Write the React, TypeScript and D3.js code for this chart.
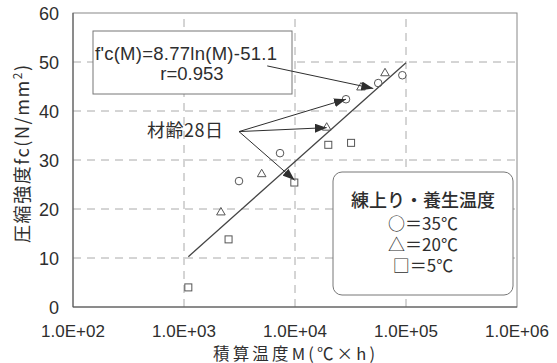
import React from "react";
import * as d3 from "d3";

const width = 557,
  height = 363;

// measured values (M in °C×h, fc in N/mm2)
const circles35 = [
  [3130, 25.7],
  [7330, 31.4],
  [28800, 42.4],
  [56200, 45.7],
  [92700, 47.3],
];
const triangles20 = [
  [2150, 19.3],
  [5010, 27.1],
  [19300, 36.6],
  [39300, 44.8],
  [64700, 47.7],
];
const squares5 = [
  [1094, 4.0],
  [2520, 13.8],
  [9860, 25.4],
  [19950, 33.1],
  [32000, 33.5],
];

const xTicks = [1e2, 1e3, 1e4, 1e5, 1e6];
const xTickLabels = ["1.0E+02", "1.0E+03", "1.0E+04", "1.0E+05", "1.0E+06"];
const yTicks = [0, 10, 20, 30, 40, 50, 60];

// fit fc(M) = a ln(M) + b
const fitA = 8.77,
  fitB = -51.1;
const fitRange = [1094, 1e5];

// arrow targets for the "材齢28日" note
const ageTargets = [
  [28800, 42.4],
  [19300, 36.6],
  [9900, 25.9],
];
const ageAnchor = [3130, 35.8];
const eqArrow = [
  [5620, 49.2],
  [50700, 44.6],
];

const legendTitle = "練上り・養生温度";
const legendLines = ["○＝35℃", "△＝20℃", "□＝5℃"];

const font = "'Liberation Sans', 'Noto Sans CJK JP', sans-serif";
const cjk = "'Noto Sans CJK JP', sans-serif";
const ink = "#2e2e2e";

export default function App() {
  const x = d3.scaleLog().domain([1e2, 1e6]).range([73, 517]);
  const y = d3.scaleLinear().domain([0, 60]).range([307, 13]);

  const fitLine = d3
    .line<number>()
    .x((m) => x(m))
    .y((m) => y(fitA * Math.log(m) + fitB));

  const tri = d3.symbol().type(d3.symbolTriangle).size(32);

  return (
    <div style={{ position: "fixed", left: 0, top: 0 }}>
      <svg width={width} height={height} style={{ background: "#fff" }}>
        <defs>
          <marker
            id="head"
            markerUnits="userSpaceOnUse"
            markerWidth={13}
            markerHeight={9}
            refX={12}
            refY={4.5}
            orient="auto"
          >
            <path d="M0,0 L12,4.5 L0,9 z" fill={ink} />
          </marker>
        </defs>

        {/* grid */}
        {yTicks.slice(1, -1).map((t) => (
          <line
            key={"gy" + t}
            x1={x(1e2)}
            x2={x(1e6)}
            y1={y(t)}
            y2={y(t)}
            stroke="#aaa"
            strokeDasharray="8,6"
          />
        ))}
        {xTicks.slice(1, -1).map((t) => (
          <line
            key={"gx" + t}
            x1={x(t)}
            x2={x(t)}
            y1={y(0)}
            y2={y(60)}
            stroke="#aaa"
            strokeDasharray="8,6"
          />
        ))}
        <rect
          x={x(1e2)}
          y={y(60)}
          width={x(1e6) - x(1e2)}
          height={y(0) - y(60)}
          fill="none"
          stroke="#888"
        />
        <line x1={x(1e2)} x2={x(1e2)} y1={y(0)} y2={y(60)} stroke="#555" />
        <line x1={x(1e2)} x2={x(1e6)} y1={y(0)} y2={y(0)} stroke="#555" />

        {/* tick labels */}
        {yTicks.map((t) => (
          <text
            key={"ty" + t}
            x={59}
            y={y(t) + 6.5}
            textAnchor="end"
            fontFamily={font}
            fontSize={18}
            fill={ink}
          >
            {t}
          </text>
        ))}
        {xTicks.map((t, i) => (
          <text
            key={"tx" + t}
            x={x(t)}
            y={336.5}
            textAnchor="middle"
            fontFamily={font}
            fontSize={17}
            fill={ink}
          >
            {xTickLabels[i]}
          </text>
        ))}

        {/* axis titles */}
        <text
          x={294}
          y={359.5}
          textAnchor="middle"
          fontFamily={cjk}
          fontSize={16.5}
          textLength={162}
          fill={ink}
        >
          積算温度M(℃×h)
        </text>
        <text
          transform="translate(29,154) rotate(-90)"
          textAnchor="middle"
          fontFamily={cjk}
          fontSize={18}
          textLength={178}
          fill={ink}
        >
          圧縮強度fc(N/mm
          <tspan dy={-7} fontSize={12}>
            2
          </tspan>
          <tspan dy={7}>)</tspan>
        </text>

        {/* fit */}
        <path
          d={fitLine(fitRange) || ""}
          fill="none"
          stroke="#444"
          strokeWidth={1.3}
        />

        {/* points */}
        {circles35.map((d, i) => (
          <circle
            key={"c" + i}
            cx={x(d[0])}
            cy={y(d[1])}
            r={3.8}
            fill="none"
            stroke="#555"
          />
        ))}
        {triangles20.map((d, i) => (
          <path
            key={"t" + i}
            d={tri() || ""}
            transform={`translate(${x(d[0])},${y(d[1])})`}
            fill="none"
            stroke="#555"
          />
        ))}
        {squares5.map((d, i) => (
          <rect
            key={"s" + i}
            x={x(d[0]) - 3.5}
            y={y(d[1]) - 3.5}
            width={7}
            height={7}
            fill="none"
            stroke="#555"
          />
        ))}

        {/* equation box */}
        <rect x={93} y={31} width={199} height={63} fill="#fff" stroke="#777" />
        <text
          x={186}
          y={60}
          textAnchor="middle"
          fontFamily={font}
          fontSize={18.5}
          textLength={182}
          fill={ink}
        >
          f'c(M)=8.77ln(M)-51.1
        </text>
        <text
          x={192}
          y={80}
          textAnchor="middle"
          fontFamily={font}
          fontSize={18.5}
          fill={ink}
        >
          r=0.953
        </text>
        <line
          x1={x(eqArrow[0][0])}
          y1={y(eqArrow[0][1])}
          x2={x(eqArrow[1][0])}
          y2={y(eqArrow[1][1])}
          stroke={ink}
          markerEnd="url(#head)"
        />

        {/* age note */}
        <text
          x={147}
          y={137}
          fontFamily={cjk}
          fontSize={18}
          textLength={76}
          fill={ink}
        >
          材齢28日
        </text>
        {ageTargets.map((d, i) => (
          <line
            key={"a" + i}
            x1={x(ageAnchor[0])}
            y1={y(ageAnchor[1])}
            x2={x(d[0])}
            y2={y(d[1])}
            stroke={ink}
            markerEnd="url(#head)"
          />
        ))}

        {/* legend */}
        <rect
          x={333}
          y={172}
          width={180}
          height={123}
          rx={9}
          fill="#fff"
          stroke="#777"
        />
        <text
          x={423}
          y={207}
          textAnchor="middle"
          fontFamily={cjk}
          fill={ink}
        >
          <tspan x={423} fontSize={18} fontWeight={500}>
            {legendTitle}
          </tspan>
          {legendLines.map((s, i) => (
            <tspan key={"l" + i} x={423} dy={i === 0 ? 23 : 21} fontSize={17}>
              {s}
            </tspan>
          ))}
        </text>
      </svg>
    </div>
  );
}
